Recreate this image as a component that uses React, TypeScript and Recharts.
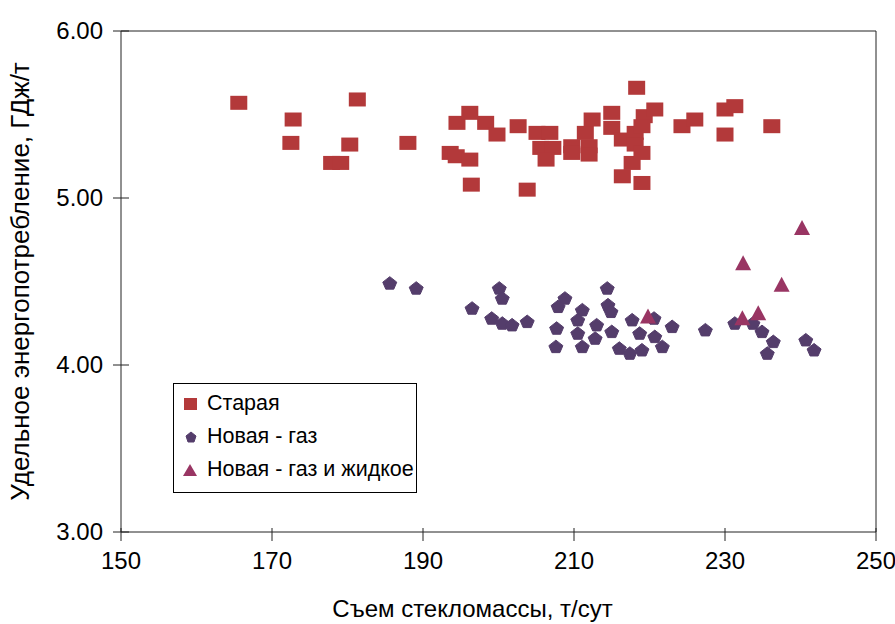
import {
  ScatterChart,
  Scatter,
  XAxis,
  YAxis,
  Legend,
  ReferenceLine,
} from "recharts";

// Старая
const oldX = [
  165.6, 172.8, 172.5, 177.9, 179.1, 180.3, 181.3, 188.0, 193.6, 194.5, 194.4, 196.2,
  196.2, 196.4, 198.3, 199.8, 202.6, 203.8, 205.1, 206.8, 205.6, 207.2, 206.3, 209.7,
  209.7, 211.5, 212.4, 212.0, 212.0, 215.0, 215.0, 216.4, 216.4, 217.7, 218.3, 218.1,
  218.1, 219.0, 219.0, 219.3, 219.0, 220.7, 224.3, 226.0, 230.0, 231.3, 230.0, 236.2,
];
const oldY = [
  5.57, 5.47, 5.33, 5.21, 5.21, 5.32, 5.59, 5.33, 5.27, 5.45, 5.25, 5.51,
  5.23, 5.08, 5.45, 5.38, 5.43, 5.05, 5.39, 5.39, 5.3, 5.3, 5.23, 5.31,
  5.27, 5.39, 5.47, 5.31, 5.26, 5.51, 5.42, 5.35, 5.13, 5.21, 5.66, 5.39,
  5.32, 5.27, 5.09, 5.49, 5.43, 5.53, 5.43, 5.47, 5.53, 5.55, 5.38, 5.43,
];

// Новая - газ
const gasX = [
  185.6, 189.1, 196.5, 199.1, 200.1, 200.5, 200.5, 201.8, 203.8, 208.8, 207.9, 207.7,
  207.6, 211.1, 210.5, 210.5, 211.1, 213.0, 212.8, 214.4, 214.5, 214.9, 215.0, 216.0,
  217.4, 217.7, 218.7, 219.0, 220.6, 220.7, 221.7, 223.0, 227.4, 231.3, 233.7, 234.9,
  236.4, 235.6, 240.7, 241.8,
];
const gasY = [
  4.49, 4.46, 4.34, 4.28, 4.46, 4.4, 4.25, 4.24, 4.26, 4.4, 4.35, 4.22,
  4.11, 4.33, 4.27, 4.19, 4.11, 4.24, 4.16, 4.46, 4.36, 4.32, 4.2, 4.1,
  4.07, 4.27, 4.19, 4.09, 4.28, 4.17, 4.11, 4.23, 4.21, 4.25, 4.25, 4.2,
  4.14, 4.07, 4.15, 4.09,
];

// Новая - газ и жидкое
const liqX = [219.8, 232.3, 232.4, 234.4, 237.5, 240.2];
const liqY = [4.29, 4.28, 4.61, 4.31, 4.48, 4.82];

const xTicks = [150, 170, 190, 210, 230, 250];
const yTicks = [3, 4, 5, 6];

const toPoints = (xs: number[], ys: number[]) => xs.map((x, i) => ({ x, y: ys[i] }));
const oldData = toPoints(oldX, oldY);
const gasData = toPoints(gasX, gasY);
const liqData = toPoints(liqX, liqY);

const RED = "#b3393a";
const PURPLE = "#543d6b";
const PINK = "#993563";
const AXIS = "#222";
const FONT = "'Liberation Sans', Arial, sans-serif";

const Square = (p: any) => (
  <rect x={p.cx - 8.5} y={p.cy - 7} width={17} height={14} fill={RED} />
);
const Blob = (p: any) => (
  <polygon
    points={`${p.cx},${p.cy - 6.5} ${p.cx + 7},${p.cy - 1} ${p.cx + 4},${p.cy + 6} ${p.cx - 4},${p.cy + 6} ${p.cx - 7},${p.cy - 1}`}
    fill={PURPLE}
    stroke={PURPLE}
    strokeWidth={1}
    strokeLinejoin="round"
  />
);
const Tri = (p: any) => (
  <polygon
    points={`${p.cx},${p.cy - 8} ${p.cx + 8},${p.cy + 7} ${p.cx - 8},${p.cy + 7}`}
    fill={PINK}
  />
);

// ticks cross the axis line like in the original
const YTick = (p: any) => {
  const ax = p.x + 18;
  return (
    <g>
      <line x1={ax - 8} x2={ax + 8} y1={p.y} y2={p.y} stroke={AXIS} />
      <text x={p.x} y={p.y} dy="0.33em" textAnchor="end" fontSize={24} fill="#000">
        {p.payload.value.toFixed(2)}
      </text>
    </g>
  );
};
const XTick = (p: any) => {
  const ay = p.y - 20;
  return (
    <g>
      <line x1={p.x} x2={p.x} y1={ay - 4} y2={ay + 9} stroke={AXIS} />
      <text x={p.x} y={p.y} dy="0.72em" textAnchor="middle" fontSize={24} fill="#000">
        {p.payload.value}
      </text>
    </g>
  );
};

const renderLegend = () => {
  const rows = [
    { name: "Старая", icon: <rect x={2} y={3} width={13} height={12} fill={RED} /> },
    {
      name: "Новая - газ",
      icon: <polygon points="9,4 14,8 12,14 6,14 4,8" fill={PURPLE} stroke={PURPLE} strokeLinejoin="round" />,
    },
    { name: "Новая - газ и жидкое", icon: <polygon points="8,3 15,15 1,15" fill={PINK} /> },
  ];
  return (
    <div
      style={{
        border: "1px solid #000",
        background: "#fff",
        width: 242,
        height: 105,
        paddingTop: 3,
        boxSizing: "content-box",
        fontFamily: FONT,
        fontSize: 21.5,
        color: "#000",
      }}
    >
      {rows.map((r) => (
        <div key={r.name} style={{ display: "flex", alignItems: "center", height: 33, paddingLeft: 8 }}>
          <svg width={18} height={18} style={{ marginRight: 7 }}>
            {r.icon}
          </svg>
          <span>{r.name}</span>
        </div>
      ))}
    </div>
  );
};

export default function App() {
  return (
    <>
      <style>{`body { margin: 0; }`}</style>
      <ScatterChart
        width={895}
        height={624}
        margin={{ top: 31, right: 19, bottom: 0, left: 0 }}
        style={{ fontFamily: FONT }}
      >
        <XAxis
          type="number"
          dataKey="x"
          domain={[150, 250]}
          ticks={xTicks}
          height={92}
          stroke={AXIS}
          tickLine={false}
          tickSize={8}
          tickMargin={12}
          tick={XTick}
          label={{
            value: "Съем стекломассы, т/сут",
            position: "insideBottom",
            offset: 7,
            dx: -26,
            fill: "#000",
            fontSize: 24,
          }}
        />
        <YAxis
          type="number"
          dataKey="y"
          domain={[3, 6]}
          ticks={yTicks}
          width={121}
          stroke={AXIS}
          tickLine={false}
          tickSize={8}
          tickMargin={10}
          tick={YTick}
          label={{
            value: "Удельное энергопотребление, ГДж/т",
            angle: -90,
            position: "insideLeft",
            offset: 20,
            fill: "#000",
            fontSize: 26,
            style: { textAnchor: "middle" },
          }}
        />
        <ReferenceLine y={6} stroke={AXIS} />
        <ReferenceLine x={250} stroke={AXIS} />
        <Scatter name="Старая" data={oldData} shape={Square} isAnimationActive={false} />
        <Scatter name="Новая - газ" data={gasData} shape={Blob} isAnimationActive={false} />
        <Scatter name="Новая - газ и жидкое" data={liqData} shape={Tri} isAnimationActive={false} />
        <Legend
          layout="vertical"
          align="center"
          verticalAlign="middle"
          content={renderLegend}
          wrapperStyle={{ left: 173, top: 383, width: 244, height: 110 }}
        />
      </ScatterChart>
    </>
  );
}
